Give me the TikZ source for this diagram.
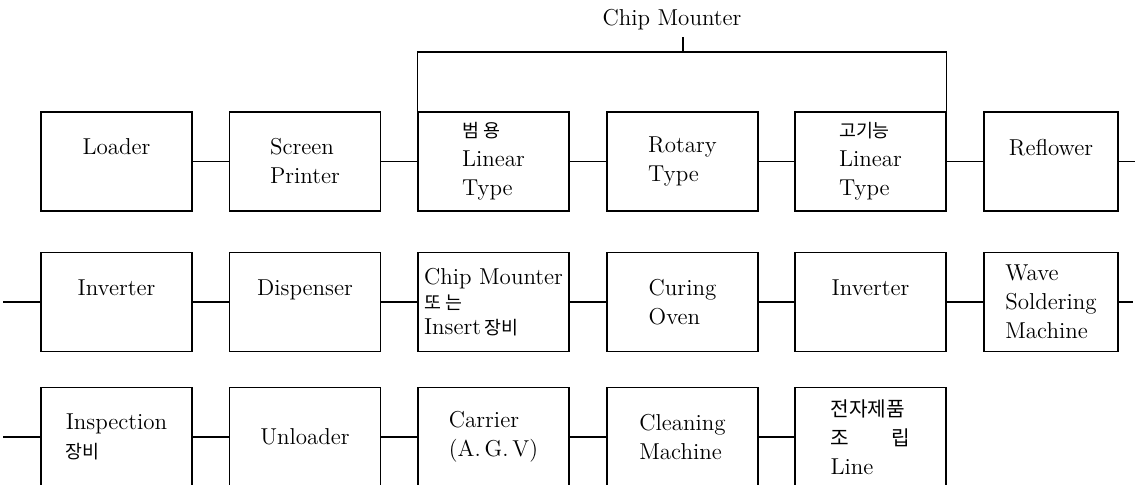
\documentclass[tikz,border=0pt]{standalone}
\usepackage{fontspec}
\newfontfamily\kr[Scale=0.8]{Noto Sans CJK KR}
\newfontfamily\krbig[Scale=0.88]{Noto Sans CJK KR}
\usetikzlibrary{positioning}

\begin{document}
\begin{tikzpicture}[
    x=0.5pt, y=-0.5pt,
    equip/.style={
        draw,
        line width=0.6pt,
        align=left,
        inner sep=2pt,
        minimum width=75.5pt,
        minimum height=49.5pt,
        font=\fontsize{11.5}{14.5}\selectfont
    },
    wire/.style={
        line width=0.6pt
    }
]
\useasboundingbox (0,0) rectangle (1144,485);

% first line
\node[equip] (loader) at (116.5,161.5) {Loader\\ \phantom{X}};
\node[equip] (screen) at (305,161.5) {Screen\\ Printer};
\node[equip] (linA) at (493.5,161.5) {{\kr 범 용}\\ Linear\\ Type};
\node[equip] (rotary) at (682.5,161.5) {Rotary\\ Type};
\node[equip] (linB) at (870.5,161.5) {{\kr 고기능}\\ Linear\\ Type};
\node[equip, minimum width=67pt] (reflow) at (1051,161.5) {Reflower\\ \phantom{X}};
\coordinate (end1) at (1135,161.5);

\node[font=\fontsize{11.5}{14.5}\selectfont] (chipm) at (672,20) {Chip Mounter};
\coordinate (bar) at (683,52);

% second line
\coordinate (start2) at (3,302);
\node[equip] (inv1) at (116.5,302) {Inverter\\ \phantom{X}};
\node[equip] (disp) at (305,302) {Dispenser\\ \phantom{X}};
\node[equip, font=\fontsize{11.5}{12.5}\selectfont] (mount) at (493.5,302)
    {Chip Mounter\\ {\kr 또 는}\\ Insert\,{\kr 장비}};
\node[equip] (curing) at (682.5,302) {Curing\\ Oven};
\node[equip] (inv2) at (870.5,302) {Inverter\\ \phantom{X}};
\node[equip, minimum width=67pt] (wave) at (1051,302) {Wave\\ Soldering\\ Machine};
\coordinate (end2) at (1133,302);

% third line
\coordinate (start3) at (3,437);
\node[equip] (inspect) at (116.5,437) {Inspection\\ {\kr 장비}};
\node[equip] (unload) at (305,437) {Unloader};
\node[equip] (carrier) at (493.5,437) {Carrier\\ (A.\,G.\,V)};
\node[equip] (clean) at (682.5,437) {Cleaning\\ Machine};
\node[equip] (assy) at (870.5,437)
    {{\krbig 전자제품}\\ {\krbig 조\hspace{2.1em}립}\\ Line};

\draw[wire] (loader) -- (screen);
\draw[wire] (screen) -- (linA);
\draw[wire] (linA) -- (rotary);
\draw[wire] (rotary) -- (linB);
\draw[wire] (linB) -- (reflow);
\draw[wire] (reflow) -- (end1);

\draw[wire] (linA.north west) |- (bar) -| (linB.north east);
\draw[wire] (bar) -- (bar |- chipm.south);

\draw[wire] (start2) -- (inv1);
\draw[wire] (inv1) -- (disp);
\draw[wire] (disp) -- (mount);
\draw[wire] (mount) -- (curing);
\draw[wire] (curing) -- (inv2);
\draw[wire] (inv2) -- (wave);
\draw[wire] (wave) -- (end2);

\draw[wire] (start3) -- (inspect);
\draw[wire] (inspect) -- (unload);
\draw[wire] (unload) -- (carrier);
\draw[wire] (carrier) -- (clean);
\draw[wire] (clean) -- (assy);

\end{tikzpicture}
\end{document}
